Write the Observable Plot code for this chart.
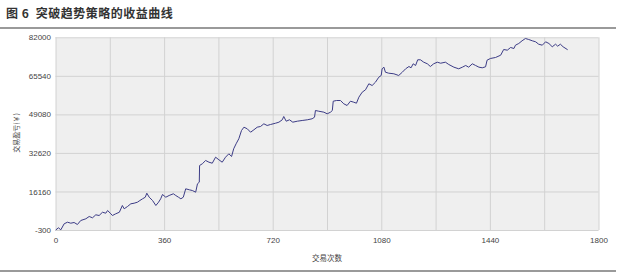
<!DOCTYPE html>
<html>
<head>
<meta charset="utf-8">
<script src="https://cdn.jsdelivr.net/npm/d3@7"></script>
<script src="https://cdn.jsdelivr.net/npm/@observablehq/plot@0.6"></script>
<style>
  html, body { margin: 0; padding: 0; background: #fff; }
  #wrap { position: relative; width: 620px; height: 276px; overflow: hidden; background: #fff; }
  #title { position: absolute; left: 6px; top: 4px; font: bold 12px "Noto Sans CJK SC", sans-serif; color: #333; letter-spacing: 0.5px; }
  #rule1 { position: absolute; left: 0; top: 27px; width: 616px; height: 2px; background: #9a9a9a; }
  #rule2 { position: absolute; left: 0; top: 270px; width: 616px; height: 2px; background: #9a9a9a; }
  #chart { position: absolute; left: 0; top: 28px; }
  #ylab { position: absolute; left: 16px; top: 133px; transform: translate(-50%, -50%) rotate(-90deg); font: 7px "Noto Sans CJK SC", sans-serif; color: #444; white-space: nowrap; }
  #xlab { position: absolute; left: 327px; top: 257px; transform: translate(-50%, -50%); font: 7.5px "Noto Sans CJK SC", sans-serif; color: #444; white-space: nowrap; }
</style>
</head>
<body>
<div id="wrap">
  <div id="title">图 6&nbsp; 突破趋势策略的收益曲线</div>
  <div id="rule1"></div>
  <div id="chart"></div>
  <div id="ylab">交易盈亏(￥)</div>
  <div id="xlab">交易次数</div>
  <div id="rule2"></div>
</div>
<script>
// Trade number (x) and cumulative P&L (y)
const trades = [0,8,16,27,38,49,60,71,82,99,110,121,132,143,154,165,171,182,187,198,210,220,226,237,248,259,270,278,287,296,301,309,320,331,340,347,353,364,375,389,397,406,414,422,430,442,452,463,469,475,476,485,496,507,518,529,540,551,562,573,582,589,597,606,615,623,634,645,656,667,678,689,700,711,728,739,750,755,763,774,785,800,816,833,849,857,860,871,888,899,910,916,919,930,943,954,965,976,987,996,1004,1015,1026,1037,1048,1059,1070,1078,1081,1087,1092,1103,1120,1136,1148,1159,1170,1177,1184,1192,1199,1208,1219,1231,1241,1252,1264,1275,1291,1302,1319,1335,1347,1358,1368,1380,1391,1402,1413,1424,1429,1440,1457,1474,1484,1496,1507,1518,1523,1534,1545,1556,1567,1579,1590,1600,1612,1623,1634,1645,1656,1663,1672,1681,1695];
const pnl = [0,850,0,2560,3250,2820,3120,2260,3970,4700,5680,5120,6400,6100,7500,7090,8240,6830,6100,6830,7500,10380,8970,9950,11100,11360,11790,12510,13240,13920,15630,13920,12510,10380,11790,13240,15080,13920,14650,15380,14650,13920,13240,13920,17510,17080,16780,16060,19650,20330,27460,28190,29600,28870,28440,31010,29900,28870,31010,32460,31310,34590,36730,38870,42410,43820,43140,41680,42710,43820,44120,45270,44550,44970,45530,45960,46980,48390,46380,46980,45960,46380,46680,46980,47410,48090,50950,50650,50230,49540,50230,50950,54920,55220,55220,53810,53090,54920,54500,54070,56630,58770,59790,62360,61630,63040,65170,65900,68760,69450,67310,66880,66630,65900,67310,68760,69740,69190,70900,70170,72610,72610,71580,70900,69740,70900,71580,71150,71580,70600,69450,68760,69450,70170,69450,70900,70170,69450,69190,69620,72440,73160,73590,74570,77000,76710,77860,77430,78840,79570,80720,81700,81280,80720,80290,79270,78840,80290,79570,78160,79270,78420,79270,78160,77000];

const xTicks = [0, 360, 720, 1080, 1440, 1800];
const xGrid = [0, 180, 360, 540, 720, 900, 1080, 1260, 1440, 1620, 1800];
const yTicks = [-300, 16160, 32620, 49080, 65540, 82000];

const data = trades.map((t, i) => ({trade: t, value: pnl[i]}));

const chart = Plot.plot({
  width: 620,
  height: 246,
  marginLeft: 55.5,
  marginRight: 21.5,
  marginTop: 9.3,
  marginBottom: 44,
  style: {fontFamily: "'Liberation Sans', Arial, sans-serif", fontSize: "8px", color: "#444", background: "transparent"},
  x: {domain: [0, 1800]},
  y: {domain: [-300, 82000]},
  marks: [
    Plot.frame({fill: "#efefef", stroke: null}),
    Plot.gridX(xGrid, {stroke: "#d2d2d2", strokeOpacity: 1}),
    Plot.gridY(yTicks, {stroke: "#d2d2d2", strokeOpacity: 1}),
    Plot.lineY(data, {x: "trade", y: "value", stroke: "#3c3c86", strokeWidth: 1}),
    Plot.axisX(xTicks, {tickSize: 0, tickPadding: 7, label: null, tickFormat: d => String(d)}),
    Plot.axisY(yTicks, {tickSize: 0, tickPadding: 5, label: null, tickFormat: d => String(d)})
  ]
});
document.getElementById("chart").appendChild(chart);
</script>
</body>
</html>
